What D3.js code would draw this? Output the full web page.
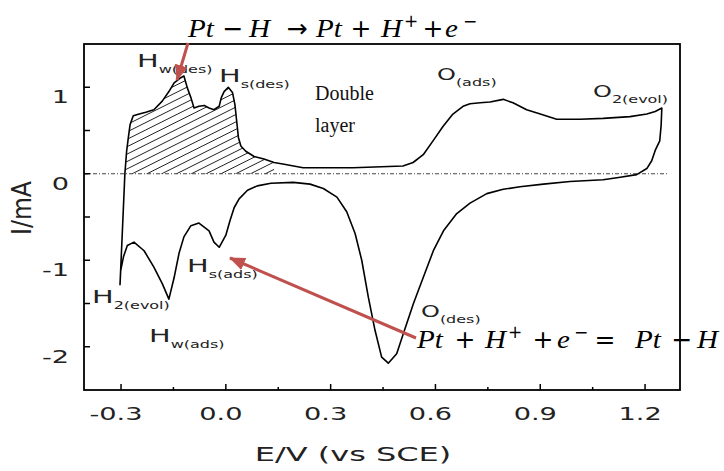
<!DOCTYPE html>
<html>
<head>
<meta charset="utf-8">
<script src="https://cdn.jsdelivr.net/npm/d3@7.9.0/dist/d3.min.js"></script>
<style>
  body { margin: 0; background: #fff; }
  svg { display: block; }
</style>
</head>
<body>
<div id="chart"></div>
<script>
const width = 724;
const height = 471;

// Anodic sweep (E in V vs SCE, I in mA)
const anodicE = [-0.303, -0.296, -0.289, -0.284, -0.279, -0.274, -0.265, -0.248, -0.229, -0.206,
  -0.182, -0.163, -0.148, -0.129, -0.120, -0.110, -0.100, -0.091, -0.077, -0.062,
  -0.048, -0.034, -0.019, -0.013, -0.005, 0.007, 0.019, 0.026, 0.031, 0.036,
  0.043, 0.057, 0.081, 0.109, 0.138, 0.167, 0.221, 0.364, 0.507, 0.536,
  0.565, 0.593, 0.622, 0.650, 0.679, 0.699, 0.728, 0.756, 0.794, 0.822,
  0.861, 0.900, 0.947, 1.014, 1.080, 1.157, 1.205, 1.229, 1.248];
const anodicI = [-1.29, -0.65, 0, 0.26, 0.42, 0.57, 0.67, 0.69, 0.71, 0.74,
  0.84, 0.95, 1.05, 1.11, 1.13, 0.99, 0.88, 0.76, 0.78, 0.79,
  0.76, 0.74, 0.78, 0.88, 0.95, 1.00, 0.94, 0.80, 0.61, 0.42,
  0.32, 0.26, 0.20, 0.17, 0.13, 0.11, 0.07, 0.07, 0.09, 0.13,
  0.22, 0.38, 0.55, 0.69, 0.78, 0.81, 0.82, 0.83, 0.86, 0.82,
  0.74, 0.69, 0.63, 0.63, 0.64, 0.66, 0.69, 0.72, 0.76];

// Cathodic sweep back from the upper limit
const cathodicE = [1.248, 1.246, 1.242, 1.229, 1.219, 1.205, 1.176, 1.129, 1.080, 0.985,
  0.909, 0.842, 0.794, 0.747, 0.699, 0.661, 0.623, 0.594, 0.565, 0.537,
  0.508, 0.489, 0.465, 0.446, 0.427, 0.408, 0.389, 0.370, 0.346, 0.318,
  0.279, 0.241, 0.193, 0.129, 0.090, 0.062, 0.038, 0.024, 0.012, 0.000,
  -0.019, -0.034, -0.048, -0.077, -0.100, -0.120, -0.134, -0.148, -0.163, -0.182,
  -0.206, -0.234, -0.263, -0.282, -0.293, -0.301, -0.303];
const cathodicI = [0.76, 0.56, 0.38, 0.27, 0.15, 0.06, -0.01, -0.04, -0.07, -0.09,
  -0.12, -0.15, -0.18, -0.23, -0.34, -0.46, -0.66, -0.89, -1.20, -1.50,
  -1.85, -2.08, -2.19, -2.12, -1.81, -1.43, -1.00, -0.69, -0.44, -0.27,
  -0.17, -0.12, -0.10, -0.11, -0.14, -0.19, -0.29, -0.39, -0.54, -0.71,
  -0.85, -0.79, -0.66, -0.57, -0.60, -0.73, -0.92, -1.20, -1.45, -1.27,
  -1.08, -0.89, -0.79, -0.83, -0.96, -1.12, -1.29];

// Axis ticks
const xMinorTicks = [-0.3, -0.15, 0, 0.15, 0.3, 0.45, 0.6, 0.75, 0.9, 1.05, 1.2];
const xLabelTicks = [-0.3, 0, 0.3, 0.6, 0.9, 1.2];
const xTickLabels = ["-0.3", "0.0", "0.3", "0.6", "0.9", "1.2"];
const yMinorTicks = [-2, -1.5, -1, -0.5, 0, 0.5, 1];
const yLabelTicks = [1, 0, -1, -2];
const yTickLabels = ["1", "0", "-1", "-2"];

const hatchMaxE = 0.15;
const SX = 1.6; // the source picture is stretched sideways
const red = "#c0504d";

const xScale = d3.scaleLinear().domain([-0.406, 1.3]).range([84, 680]);
const yScale = d3.scaleLinear().domain([-2.5, 1.5]).range([390, 44]);

const anodic = anodicE.map((e, i) => ({ e, i: anodicI[i] }));
const cathodic = cathodicE.map((e, i) => ({ e, i: cathodicI[i] }));

const svg = d3
  .select("#chart")
  .append("svg")
  .attr("width", width)
  .attr("height", height)
  .style("background", "#fff");

const defs = svg.append("defs");
defs
  .append("marker")
  .attr("id", "head")
  .attr("viewBox", "0 0 16 13")
  .attr("markerUnits", "userSpaceOnUse")
  .attr("markerWidth", 16)
  .attr("markerHeight", 13)
  .attr("refX", 15)
  .attr("refY", 6.5)
  .attr("orient", "auto")
  .append("path")
  .attr("d", "M0,0 L16,6.5 L0,13 Z")
  .attr("fill", red);

// Hatched charge area under the hydrogen desorption peaks
const hatchPts = anodic.filter((d) => d.i >= 0 && d.e <= hatchMaxE);
const area = d3
  .area()
  .x((d) => xScale(d.e))
  .y0(yScale(0))
  .y1((d) => yScale(d.i));
defs.append("clipPath").attr("id", "hclip").append("path").attr("d", area(hatchPts));

const hx0 = xScale(hatchPts[0].e) - 2;
const hx1 = xScale(hatchMaxE) + 2;
const hatch = svg.append("g").attr("clip-path", "url(#hclip)");
hatch
  .selectAll("line")
  .data(d3.range(60, 280, 7.4))
  .join("line")
  .attr("x1", hx0)
  .attr("y1", (b) => b)
  .attr("x2", hx1)
  .attr("y2", (b) => b - 0.5 * (hx1 - hx0))
  .attr("stroke", "#222")
  .attr("stroke-width", 1);

// zero current line
svg
  .append("line")
  .attr("x1", xScale.range()[0])
  .attr("x2", 669)
  .attr("y1", yScale(0))
  .attr("y2", yScale(0))
  .attr("stroke", "#444")
  .attr("stroke-width", 1)
  .attr("stroke-dasharray", "4,2,1,2");

// voltammogram
const line = d3
  .line()
  .x((d) => xScale(d.e))
  .y((d) => yScale(d.i));
svg
  .append("path")
  .attr("d", line(anodic.concat(cathodic)))
  .attr("fill", "none")
  .attr("stroke", "#000")
  .attr("stroke-width", 1.6)
  .attr("stroke-linejoin", "round");

// frame
svg
  .append("rect")
  .attr("x", xScale.range()[0])
  .attr("y", yScale.range()[1])
  .attr("width", xScale.range()[1] - xScale.range()[0])
  .attr("height", yScale.range()[0] - yScale.range()[1])
  .attr("fill", "none")
  .attr("stroke", "#000")
  .attr("stroke-width", 1.8);

// inward ticks
svg
  .append("g")
  .selectAll("line")
  .data(xMinorTicks)
  .join("line")
  .attr("x1", (d) => xScale(d))
  .attr("x2", (d) => xScale(d))
  .attr("y1", yScale.range()[0])
  .attr("y2", (d) => yScale.range()[0] - (xLabelTicks.includes(d) ? 6 : 3))
  .attr("stroke", "#000")
  .attr("stroke-width", 1.5);
svg
  .append("g")
  .selectAll("line")
  .data(yMinorTicks)
  .join("line")
  .attr("y1", (d) => yScale(d))
  .attr("y2", (d) => yScale(d))
  .attr("x1", xScale.range()[0])
  .attr("x2", xScale.range()[0] + 6)
  .attr("stroke", "#000")
  .attr("stroke-width", 1.5);

// stretched sans text, like the scanned figure
function stretched(x, y, parts, anchor, sx) {
  const g = svg
    .append("g")
    .attr("transform", `translate(${x},${y}) scale(${sx || SX},1)`);
  const t = g
    .append("text")
    .attr("text-anchor", anchor || "start")
    .attr("font-family", "DejaVu Sans")
    .attr("fill", "#222");
  parts.forEach((p) =>
    t
      .append("tspan")
      .attr("font-size", p.size)
      .attr("dy", p.dy || 0)
      .text(p.text)
  );
  return g;
}

xLabelTicks.forEach((v, k) =>
  stretched(xScale(v) - 5, 420, [{ text: xTickLabels[k], size: 17 }], "middle")
);
yLabelTicks.forEach((v, k) =>
  stretched(69, yScale(v) + 16, [{ text: yTickLabels[k], size: 17 }], "end")
);

stretched(353, 461, [{ text: "E/V (vs SCE)", size: 20 }], "middle");

svg
  .append("text")
  .attr("transform", "translate(31,208) rotate(-90) scale(1.12,1.3)")
  .attr("text-anchor", "middle")
  .attr("font-family", "DejaVu Sans")
  .attr("font-size", 21)
  .attr("fill", "#222")
  .text("I/mA");

// peak labels
const peakLabels = [
  { main: "H", sub: "w(des)", x: 137, y: 67 },
  { main: "H", sub: "s(des)", x: 219, y: 82 },
  { main: "O", sub: "(ads)", x: 437, y: 80 },
  { main: "O", sub: "2(evol)", x: 593, y: 97 },
  { main: "H", sub: "s(ads)", x: 187, y: 272 },
  { main: "H", sub: "2(evol)", x: 92, y: 303 },
  { main: "H", sub: "w(ads)", x: 149, y: 342 },
  { main: "O", sub: "(des)", x: 421, y: 317 },
];
peakLabels.forEach((p) =>
  stretched(p.x, p.y, [
    { text: p.main, size: p.main === "O" ? 15 : 18 },
    { text: p.sub, size: 10, dy: 6 },
  ])
);

svg
  .append("text")
  .attr("x", 315)
  .attr("y", 100)
  .attr("font-family", "Liberation Serif")
  .attr("font-size", 20)
  .attr("fill", "#111")
  .text("Double");
svg
  .append("text")
  .attr("x", 315)
  .attr("y", 132)
  .attr("font-family", "Liberation Serif")
  .attr("font-size", 20)
  .attr("fill", "#111")
  .text("layer");

// reaction equations, each glyph group placed where the picture has it
function equation(y, parts) {
  const g = svg.append("g").attr("fill", "#000");
  parts.forEach(([text, x, kind]) => {
    if (kind === "i") {
      g.append("text")
        .attr("transform", `translate(${x},${y}) scale(1.12,1)`)
        .attr("font-family", "Liberation Serif")
        .attr("font-style", "italic")
        .attr("font-size", 26)
        .text(text);
    } else {
      g.append("text")
        .attr("x", x)
        .attr("y", kind === "sup" ? y - 10 : y)
        .attr("font-family", "DejaVu Sans")
        .attr("text-anchor", "middle")
        .attr("font-size", kind === "sup" ? 17 : 25)
        .text(text);
    }
  });
}
equation(37, [
  ["Pt", 188, "i"],
  ["−", 233, "op"],
  ["H", 249, "i"],
  ["→", 297, "op"],
  ["Pt", 316, "i"],
  ["+", 361, "op"],
  ["H", 381, "i"],
  ["+", 411, "sup"],
  ["+", 433, "op"],
  ["e", 445, "i"],
  ["−", 470, "sup"],
]);
equation(348, [
  ["Pt", 417, "i"],
  ["+", 465, "op"],
  ["H", 485, "i"],
  ["+", 515, "sup"],
  ["+", 543, "op"],
  ["e", 557, "i"],
  ["−", 581, "sup"],
  ["=", 605, "op"],
  ["Pt", 635, "i"],
  ["−", 682, "op"],
  ["H", 697, "i"],
]);

// red arrows
[
  [188, 43, 177, 80],
  [416, 338, 230, 258],
].forEach(([x1, y1, x2, y2]) =>
  svg
    .append("line")
    .attr("x1", x1)
    .attr("y1", y1)
    .attr("x2", x2)
    .attr("y2", y2)
    .attr("stroke", red)
    .attr("stroke-width", 3)
    .attr("marker-end", "url(#head)")
);
</script>
</body>
</html>
